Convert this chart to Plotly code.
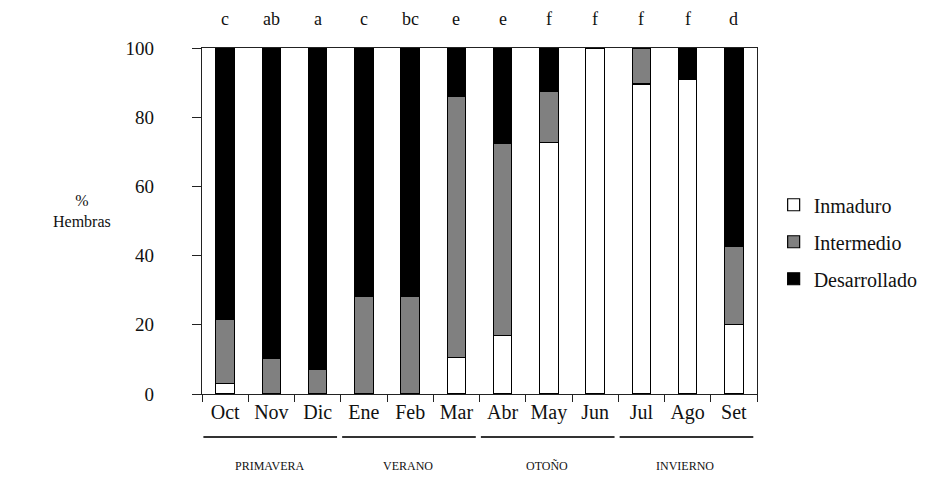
import plotly.graph_objects as go

months = ["Oct", "Nov", "Dic", "Ene", "Feb", "Mar", "Abr", "May", "Jun", "Jul", "Ago", "Set"]
inmaduro = [3, 0, 0, 0, 0, 10.5, 17, 72.6, 100, 89.6, 91, 20]
intermedio = [18.6, 10.3, 7.1, 28.1, 28.1, 75.4, 55.5, 14.8, 0, 10.4, 0, 22.6]
desarrollado = [78.4, 89.7, 92.9, 71.9, 71.9, 14.1, 27.5, 12.6, 0, 0, 9, 57.4]
letters = ["c", "ab", "a", "c", "bc", "e", "e", "f", "f", "f", "f", "d"]
seasons = ["PRIMAVERA", "VERANO", "OTOÑO", "INVIERNO"]
season_groups = [(0, 2), (3, 5), (6, 8), (9, 11)]
yticks = [0, 20, 40, 60, 80, 100]

FONT = "Liberation Serif, Times New Roman, serif"

fig = go.Figure()
series = [("Inmaduro", inmaduro, "#ffffff"),
          ("Intermedio", intermedio, "#808080"),
          ("Desarrollado", desarrollado, "#000000")]
for name, vals, col in series:
    fig.add_trace(go.Bar(x=months, y=[v if v else None for v in vals], name=name,
                         legendgroup=name,
                         marker=dict(color=col, line=dict(color="#000000", width=1.2))))

for m, t in zip(months, letters):
    fig.add_annotation(x=m, y=100, yref="y", text=t, showarrow=False,
                       xanchor="center", yanchor="middle",
                       yshift=29, font=dict(family=FONT, size=18, color="#111111"))

for (a, b), s in zip(season_groups, seasons):
    fig.add_shape(type="line", xref="x", yref="paper", x0=a - 0.5 + 0.03, x1=b + 0.42,
                  y0=-0.124, y1=-0.124, line=dict(color="#333333", width=2))
    fig.add_annotation(x=(a + b) / 2 - 0.05, xref="x", y=-0.208, yref="paper", text=s,
                       xanchor="center", yanchor="middle",
                       showarrow=False, font=dict(family=FONT, size=12, color="#111111"))

fig.add_annotation(x=-0.216, xref="paper", y=0.53, yref="paper", text="%<br>Hembras",
                   xanchor="center", yanchor="middle",
                   showarrow=False, font=dict(family=FONT, size=16, color="#111111"))

fig.update_layout(
    barmode="stack", bargap=0.6,
    width=950, height=480,
    margin=dict(l=202, r=193, t=48, b=86),
    paper_bgcolor="white", plot_bgcolor="white",
    font=dict(family=FONT, color="#111111"),
    legend=dict(x=1.03, xanchor="left", y=0.44, yanchor="middle",
                traceorder="grouped", tracegroupgap=8,
                font=dict(family=FONT, size=20, color="#111111")),
    xaxis=dict(type="category", showline=True, linecolor="#222222", linewidth=1.2,
               mirror=True, ticks="outside", tickson="boundaries", ticklen=7,
               tickcolor="#222222", showgrid=False,
               tickfont=dict(family=FONT, size=20, color="#111111")),
    yaxis=dict(range=[0, 100], tickvals=yticks, showline=True, linecolor="#222222",
               linewidth=1.2, mirror=True, ticks="outside", ticklen=9,
               tickcolor="#222222", showgrid=False, zeroline=False,
               ticklabelstandoff=34,
               tickfont=dict(family=FONT, size=19, color="#111111")),
)

fig.write_html("out.html")
